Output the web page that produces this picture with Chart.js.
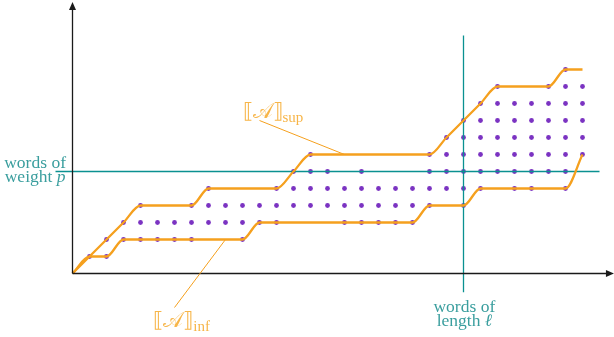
<!DOCTYPE html>
<html>
<head>
<meta charset="utf-8">
<script src="https://cdn.jsdelivr.net/npm/chart.js@4.4.1/dist/chart.umd.min.js"></script>
<style>
  html, body { margin: 0; padding: 0; background: #fff; }
  canvas { display: block; }
</style>
</head>
<body>
<canvas id="words" width="614" height="337"></canvas>
<script>
// upper envelope [[A]]sup : (length, weight) knots
const supLength = [0, 1, 2, 3, 4, 7, 8, 12, 13, 14, 21, 22, 23, 24, 25, 28, 29, 30];
const supWeight = [0, 1, 2, 3, 4, 4, 5, 5, 6, 7, 7, 8, 9, 10, 11, 11, 12, 12];

// lower envelope [[A]]inf
const infLength = [0, 1, 2, 3, 10, 11, 20, 21, 23, 24, 29, 30];
const infWeight = [0, 1, 1, 2, 2, 3, 3, 4, 4, 5, 5, 7];

// accepted words: index = weight, entries = lengths
const wordsByWeight = [
    [],
    [1, 2],
    [2, 3, 4, 5, 6, 7, 10],
    [3, 4, 5, 6, 7, 8, 9, 10, 11, 12, 16, 17, 18, 19, 20],
    [4, 7, 8, 9, 10, 11, 12, 13, 14, 15, 16, 17, 18, 19, 20, 21, 23],
    [8, 12, 13, 14, 15, 16, 17, 18, 19, 20, 21, 22, 23, 24, 26, 27, 29],
    [13, 14, 15, 17, 21, 22, 23, 24, 25, 26, 27, 28, 29],
    [14, 21, 22, 23, 24, 25, 26, 27, 28, 29, 30],
    [22, 23, 24, 25, 26, 27, 28, 29, 30],
    [23, 24, 25, 26, 27, 28, 29, 30],
    [24, 25, 26, 27, 28, 29, 30],
    [25, 28, 29, 30],
    [29],
];

const weightP = 6;
const lengthL = 23;

const ORANGE = '#f5a01e';
const ORANGE_TEXT = '#f7b548';
const TEAL = '#0a9191';
const TEAL_TEXT = '#3a9e9e';
const PURPLE = '#7b33c2';

const toPoints = (xs, ys) => xs.map((x, i) => ({ x: x, y: ys[i] }));

const dots = [];
wordsByWeight.forEach((lengths, w) => {
    lengths.forEach(l => dots.push({ x: l, y: w }));
});

// axes, labels and leader lines
const annotate = {
    id: 'annotate',
    afterDatasetsDraw(chart) {
        const ctx = chart.ctx;
        const xs = chart.scales.x;
        const ys = chart.scales.y;
        const px = v => xs.getPixelForValue(v);
        const py = v => ys.getPixelForValue(v);

        ctx.save();

        // axes with arrow heads
        ctx.strokeStyle = '#1a1a1a';
        ctx.fillStyle = '#1a1a1a';
        ctx.lineWidth = 1.3;
        ctx.beginPath();
        ctx.moveTo(px(0), py(0));
        ctx.lineTo(px(31.5), py(0));
        ctx.moveTo(px(0), py(0));
        ctx.lineTo(px(0), py(15.7));
        ctx.stroke();

        ctx.beginPath();
        ctx.moveTo(px(31.85), py(0));
        ctx.lineTo(px(31.85) - 8, py(0) - 3.5);
        ctx.lineTo(px(31.85) - 8, py(0) + 3.5);
        ctx.closePath();
        ctx.fill();
        ctx.beginPath();
        ctx.moveTo(px(0), py(15.97));
        ctx.lineTo(px(0) - 3.5, py(15.97) + 8);
        ctx.lineTo(px(0) + 3.5, py(15.97) + 8);
        ctx.closePath();
        ctx.fill();

        // leader lines
        ctx.strokeStyle = ORANGE;
        ctx.lineWidth = 1;
        ctx.beginPath();
        ctx.moveTo(px(16), py(7));
        ctx.lineTo(px(11), py(9));
        ctx.moveTo(px(9), py(2));
        ctx.lineTo(px(6), py(-2));
        ctx.stroke();

        // teal captions
        const caption = (cx, y1, y2, head, word, sym) => {
            ctx.fillStyle = TEAL_TEXT;
            ctx.textBaseline = 'alphabetic';
            ctx.textAlign = 'center';
            ctx.font = '17.5px "Liberation Serif"';
            ctx.fillText(head, cx, y1);
            const wa = ctx.measureText(word).width;
            ctx.font = 'italic 17.5px "Liberation Serif"';
            const wb = ctx.measureText(sym).width;
            ctx.textAlign = 'left';
            ctx.font = '17.5px "Liberation Serif"';
            ctx.fillText(word, cx - (wa + wb) / 2, y2);
            ctx.font = 'italic 17.5px "Liberation Serif"';
            ctx.fillText(sym, cx - (wa + wb) / 2 + wa, y2);
        };
        caption(px(-2.2), py(6.22), py(5.38), 'words of', 'weight ', 'p');
        caption(px(23.05), py(-2.27), py(-3.07), 'words of', 'length ', '\u2113');

        // envelope names
        const bracket = (x, y, sub) => {
            ctx.fillStyle = ORANGE_TEXT;
            ctx.textAlign = 'left';
            ctx.font = '21px "DejaVu Serif"';
            const main = '\u27E6\uD835\uDC9C\u27E7';
            ctx.fillText(main, px(x), py(y));
            const w = ctx.measureText(main).width;
            ctx.font = '15px "Liberation Serif"';
            ctx.fillText(sub, px(x) + w, py(y) + 4);
        };
        bracket(10.0, 9.15, 'sup');
        bracket(4.75, -3.15, 'inf');

        ctx.restore();
    }
};

new Chart(document.getElementById('words'), {
    type: 'line',
    data: {
        datasets: [
            {
                label: 'sup',
                data: toPoints(supLength, supWeight),
                borderColor: ORANGE,
                borderWidth: 2.3,
                pointRadius: 0,
                cubicInterpolationMode: 'monotone',
                order: 1,
            },
            {
                label: 'inf',
                data: toPoints(infLength, infWeight),
                borderColor: ORANGE,
                borderWidth: 2.3,
                pointRadius: 0,
                cubicInterpolationMode: 'monotone',
                order: 1,
            },
            {
                label: 'weight p',
                data: [{ x: -1, y: weightP }, { x: 31, y: weightP }],
                borderColor: TEAL,
                borderWidth: 1.3,
                pointRadius: 0,
                order: 2,
            },
            {
                label: 'length l',
                data: [{ x: lengthL, y: -1.1 }, { x: lengthL, y: 14 }],
                borderColor: TEAL,
                borderWidth: 1.3,
                pointRadius: 0,
                order: 2,
            },
            {
                label: 'words',
                data: dots,
                showLine: false,
                pointRadius: 2.4,
                pointBackgroundColor: PURPLE,
                pointBorderWidth: 0,
                order: 3,
            },
        ],
    },
    options: {
        responsive: false,
        devicePixelRatio: 1,
        animation: false,
        layout: { padding: 0, autoPadding: false },
        plugins: {
            legend: { display: false },
            tooltip: { enabled: false },
        },
        scales: {
            x: {
                type: 'linear',
                display: false,
                min: -72.5 / 17,
                max: (614 - 72.5) / 17,
            },
            y: {
                type: 'linear',
                display: false,
                min: -(337 - 273.5) / 17,
                max: 273.5 / 17,
            },
        },
    },
    plugins: [annotate],
});
</script>
</body>
</html>
